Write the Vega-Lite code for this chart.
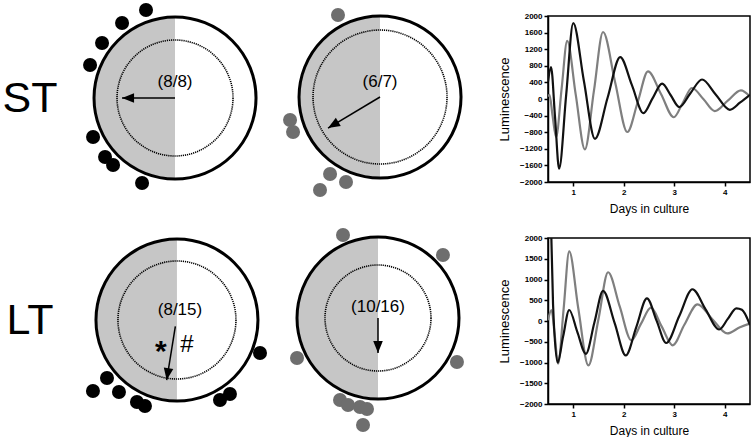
{
  "$schema": "https://vega.github.io/schema/vega-lite/v6.json",
  "padding": {"left": 0, "top": 3, "right": 0, "bottom": 0},
  "background": "white",
  "config": {"view": {"stroke": null}, "font": "Liberation Sans"},
  "datasets": {
    "center": [{"x": 0, "y": 0}],
    "dots": [
      {"p": "ST1", "x": -0.358, "y": 1.086}, {"p": "ST1", "x": -0.654, "y": 0.926}, {"p": "ST1", "x": -0.901, "y": 0.679}, {"p": "ST1", "x": -1.049, "y": 0.407},
      {"p": "ST1", "x": -1.012, "y": -0.481}, {"p": "ST1", "x": -0.864, "y": -0.728}, {"p": "ST1", "x": -0.765, "y": -0.827}, {"p": "ST1", "x": -0.407, "y": -1.049},
      {"p": "ST2", "x": -0.519, "y": 1.012}, {"p": "ST2", "x": -1.111, "y": -0.284}, {"p": "ST2", "x": -1.074, "y": -0.432}, {"p": "ST2", "x": -0.617, "y": -0.951},
      {"p": "ST2", "x": -0.42, "y": -1.049}, {"p": "ST2", "x": -0.741, "y": -1.148},
      {"p": "LT1", "x": -1.037, "y": -0.877}, {"p": "LT1", "x": -0.864, "y": -0.716}, {"p": "LT1", "x": -0.716, "y": -0.889}, {"p": "LT1", "x": -0.494, "y": -1.012},
      {"p": "LT1", "x": -0.395, "y": -1.062}, {"p": "LT1", "x": 0.531, "y": -0.988}, {"p": "LT1", "x": 0.654, "y": -0.914}, {"p": "LT1", "x": 1.025, "y": -0.407},
      {"p": "LT2", "x": -0.432, "y": 1.025}, {"p": "LT2", "x": 0.802, "y": 0.778}, {"p": "LT2", "x": -1.0, "y": -0.494}, {"p": "LT2", "x": 0.975, "y": -0.543},
      {"p": "LT2", "x": -0.469, "y": -1.012}, {"p": "LT2", "x": -0.37, "y": -1.074}, {"p": "LT2", "x": -0.222, "y": -1.099}, {"p": "LT2", "x": -0.136, "y": -1.123},
      {"p": "LT2", "x": -0.185, "y": -1.321}
    ],
    "arrows": [
      {"p": "ST1", "x": -0.654, "y": 0, "x0": 0, "y0": 0, "angle": 270},
      {"p": "ST2", "x": -0.642, "y": -0.383, "x0": 0, "y0": 0, "angle": 239},
      {"p": "LT1", "x": -0.127, "y": -0.741, "x0": -0.02, "y0": -0.08, "angle": 189},
      {"p": "LT2", "x": 0, "y": -0.432, "x0": 0, "y0": 0, "angle": 180}
    ],
    "labels": [
      {"p": "ST1", "k": "n", "x": 0, "y": 0.198, "t": "(8/8)"},
      {"p": "ST2", "k": "n", "x": 0, "y": 0.185, "t": "(6/7)"},
      {"p": "LT1", "k": "n", "x": 0.037, "y": 0.123, "t": "(8/15)"},
      {"p": "LT2", "k": "n", "x": 0, "y": 0.136, "t": "(10/16)"},
      {"p": "LT1", "k": "a", "x": -0.2, "y": -0.4, "t": "*"},
      {"p": "LT1", "k": "s", "x": 0.123, "y": -0.309, "t": "#"}
    ],
    "stlum": [
      {"s": "gray", "day": 0.5, "lum": 60}, {"s": "gray", "day": 0.53, "lum": 100}, {"s": "gray", "day": 0.59, "lum": -400}, {"s": "gray", "day": 0.66, "lum": -915},
      {"s": "gray", "day": 0.77, "lum": 250}, {"s": "gray", "day": 0.88, "lum": 1400}, {"s": "gray", "day": 1.05, "lum": 100}, {"s": "gray", "day": 1.23, "lum": -1215},
      {"s": "gray", "day": 1.41, "lum": 200}, {"s": "gray", "day": 1.59, "lum": 1615}, {"s": "gray", "day": 1.83, "lum": 400}, {"s": "gray", "day": 2.07, "lum": -795},
      {"s": "gray", "day": 2.28, "lum": -60}, {"s": "gray", "day": 2.48, "lum": 665}, {"s": "gray", "day": 2.74, "lum": 115}, {"s": "gray", "day": 2.99, "lum": -440},
      {"s": "gray", "day": 3.17, "lum": -90}, {"s": "gray", "day": 3.35, "lum": 265}, {"s": "gray", "day": 3.58, "lum": -5}, {"s": "gray", "day": 3.8, "lum": -290},
      {"s": "gray", "day": 4.06, "lum": -40}, {"s": "gray", "day": 4.32, "lum": 210}, {"s": "gray", "day": 4.5, "lum": 60},
      {"s": "black", "day": 0.5, "lum": 420}, {"s": "black", "day": 0.56, "lum": 770}, {"s": "black", "day": 0.64, "lum": -450}, {"s": "black", "day": 0.72, "lum": -1680},
      {"s": "black", "day": 0.86, "lum": 100}, {"s": "black", "day": 1.0, "lum": 1830}, {"s": "black", "day": 1.21, "lum": 440}, {"s": "black", "day": 1.43, "lum": -960},
      {"s": "black", "day": 1.68, "lum": 30}, {"s": "black", "day": 1.93, "lum": 1010}, {"s": "black", "day": 2.16, "lum": 340}, {"s": "black", "day": 2.39, "lum": -340},
      {"s": "black", "day": 2.57, "lum": 15}, {"s": "black", "day": 2.76, "lum": 370}, {"s": "black", "day": 2.93, "lum": 90}, {"s": "black", "day": 3.1, "lum": -195},
      {"s": "black", "day": 3.32, "lum": 140}, {"s": "black", "day": 3.55, "lum": 470}, {"s": "black", "day": 3.82, "lum": 110}, {"s": "black", "day": 4.1, "lum": -260},
      {"s": "black", "day": 4.3, "lum": -90}, {"s": "black", "day": 4.5, "lum": 100}
    ],
    "ltlum": [
      {"s": "gray", "day": 0.5, "lum": 20}, {"s": "gray", "day": 0.57, "lum": 265}, {"s": "gray", "day": 0.63, "lum": -300}, {"s": "gray", "day": 0.7, "lum": -1030},
      {"s": "gray", "day": 0.81, "lum": 300}, {"s": "gray", "day": 0.92, "lum": 1680}, {"s": "gray", "day": 1.1, "lum": 300}, {"s": "gray", "day": 1.3, "lum": -1070},
      {"s": "gray", "day": 1.5, "lum": 50}, {"s": "gray", "day": 1.69, "lum": 1175}, {"s": "gray", "day": 1.92, "lum": 350}, {"s": "gray", "day": 2.15, "lum": -465},
      {"s": "gray", "day": 2.34, "lum": -70}, {"s": "gray", "day": 2.54, "lum": 320}, {"s": "gray", "day": 2.75, "lum": -130}, {"s": "gray", "day": 2.97, "lum": -585},
      {"s": "gray", "day": 3.2, "lum": -90}, {"s": "gray", "day": 3.46, "lum": 400}, {"s": "gray", "day": 3.75, "lum": 50}, {"s": "gray", "day": 4.05, "lum": -300},
      {"s": "gray", "day": 4.3, "lum": -150}, {"s": "gray", "day": 4.5, "lum": -60},
      {"s": "black", "day": 0.535, "lum": 3500}, {"s": "black", "day": 0.6, "lum": 400}, {"s": "black", "day": 0.69, "lum": -1000}, {"s": "black", "day": 0.8, "lum": -370},
      {"s": "black", "day": 0.92, "lum": 265}, {"s": "black", "day": 1.08, "lum": -260}, {"s": "black", "day": 1.25, "lum": -790}, {"s": "black", "day": 1.42, "lum": -30},
      {"s": "black", "day": 1.59, "lum": 725}, {"s": "black", "day": 1.82, "lum": -50}, {"s": "black", "day": 2.04, "lum": -830}, {"s": "black", "day": 2.25, "lum": -140},
      {"s": "black", "day": 2.46, "lum": 545}, {"s": "black", "day": 2.65, "lum": 10}, {"s": "black", "day": 2.84, "lum": -530}, {"s": "black", "day": 3.1, "lum": 120},
      {"s": "black", "day": 3.36, "lum": 765}, {"s": "black", "day": 3.62, "lum": 280}, {"s": "black", "day": 3.89, "lum": -205}, {"s": "black", "day": 4.06, "lum": 50},
      {"s": "black", "day": 4.23, "lum": 305}, {"s": "black", "day": 4.34, "lum": 270}, {"s": "black", "day": 4.5, "lum": -100}
    ]
  },
  "bounds": "flush",
  "columns": 4,
  "spacing": {"row": 56, "column": 0},
  "concat": [
    {
      "width": 60, "height": 166,
      "data": {"values": [{"t": "ST"}]},
      "mark": {"type": "text", "fontSize": 43, "font": "Liberation Sans", "baseline": "middle", "align": "center", "color": "black"},
      "encoding": {"text": {"field": "t"}}
    },
    {
      "width": 220, "height": 166,
      "encoding": {
        "x": {"field": "x", "type": "quantitative", "scale": {"domain": [-1.42, 1.296], "nice": false, "zero": false}, "axis": null},
        "y": {"field": "y", "type": "quantitative", "scale": {"domain": [-1.037, 1.012], "nice": false, "zero": false}, "axis": null}
      },
      "layer": [
        {"data": {"name": "center"}, "mark": {"type": "point", "shape": "M0,-1A1,1,0,0,0,0,1Z", "filled": true, "color": "#c6c6c6", "strokeWidth": 0, "size": 25600, "opacity": 1}},
        {"data": {"name": "center"}, "mark": {"type": "point", "shape": "circle", "filled": false, "color": "black", "strokeWidth": 3, "size": 26244, "opacity": 1}},
        {"data": {"name": "center"}, "mark": {"type": "point", "shape": "circle", "filled": false, "color": "black", "strokeWidth": 1.6, "strokeDash": [1.2, 0.9], "size": 13456, "opacity": 1}},
        {"data": {"name": "dots"}, "transform": [{"filter": "datum.p === 'ST1'"}], "mark": {"type": "point", "shape": "circle", "filled": true, "color": "black", "size": 196, "opacity": 1, "strokeWidth": 0}},
        {"data": {"name": "arrows"}, "transform": [{"filter": "datum.p === 'ST1'"}], "mark": {"type": "rule", "color": "black", "strokeWidth": 1.5}, "encoding": {"x2": {"field": "x0"}, "y2": {"field": "y0"}}},
        {"data": {"name": "arrows"}, "transform": [{"filter": "datum.p === 'ST1'"}], "mark": {"type": "point", "shape": "M0,0L0.8,2L-0.8,2Z", "filled": true, "color": "black", "size": 144, "opacity": 1, "strokeWidth": 0}, "encoding": {"angle": {"field": "angle", "type": "quantitative", "scale": null}}},
        {"data": {"name": "labels"}, "transform": [{"filter": "datum.p === 'ST1' && datum.k === 'n'"}], "mark": {"type": "text", "fontSize": 17, "font": "Liberation Sans", "baseline": "middle", "color": "black"}, "encoding": {"text": {"field": "t"}}}
      ]
    },
    {
      "width": 268, "height": 166,
      "encoding": {
        "x": {"field": "x", "type": "quantitative", "scale": {"domain": [-1.235, 2.074], "nice": false, "zero": false}, "axis": null},
        "y": {"field": "y", "type": "quantitative", "scale": {"domain": [-1.049, 1.0], "nice": false, "zero": false}, "axis": null}
      },
      "layer": [
        {"data": {"name": "center"}, "mark": {"type": "point", "shape": "M0,-1A1,1,0,0,0,0,1Z", "filled": true, "color": "#c6c6c6", "strokeWidth": 0, "size": 25600, "opacity": 1}},
        {"data": {"name": "center"}, "mark": {"type": "point", "shape": "circle", "filled": false, "color": "black", "strokeWidth": 3, "size": 26244, "opacity": 1}},
        {"data": {"name": "center"}, "mark": {"type": "point", "shape": "circle", "filled": false, "color": "black", "strokeWidth": 1.6, "strokeDash": [1.2, 0.9], "size": 17956, "opacity": 1}},
        {"data": {"name": "dots"}, "transform": [{"filter": "datum.p === 'ST2'"}], "mark": {"type": "point", "shape": "circle", "filled": true, "color": "#6e6e6e", "size": 196, "opacity": 1, "strokeWidth": 0}},
        {"data": {"name": "arrows"}, "transform": [{"filter": "datum.p === 'ST2'"}], "mark": {"type": "rule", "color": "black", "strokeWidth": 1.5}, "encoding": {"x2": {"field": "x0"}, "y2": {"field": "y0"}}},
        {"data": {"name": "arrows"}, "transform": [{"filter": "datum.p === 'ST2'"}], "mark": {"type": "point", "shape": "M0,0L0.8,2L-0.8,2Z", "filled": true, "color": "black", "size": 144, "opacity": 1, "strokeWidth": 0}, "encoding": {"angle": {"field": "angle", "type": "quantitative", "scale": null}}},
        {"data": {"name": "labels"}, "transform": [{"filter": "datum.p === 'ST2' && datum.k === 'n'"}], "mark": {"type": "text", "fontSize": 17, "font": "Liberation Sans", "baseline": "middle", "color": "black"}, "encoding": {"text": {"field": "t"}}}
      ]
    },
    {
      "width": 202, "height": 166,
      "view": {"stroke": "black", "strokeWidth": 1.5},
      "data": {"name": "stlum"},
      "mark": {"type": "line", "interpolate": "monotone", "strokeWidth": 2.2, "clip": true},
      "encoding": {
        "x": {"field": "day", "type": "quantitative", "scale": {"domain": [0.5, 4.5], "nice": false, "zero": false},
          "axis": {"values": [1, 2, 3, 4], "format": "d", "grid": false, "title": "Days in culture", "titleFontSize": 12, "titleFontWeight": "normal", "titleColor": "black", "titlePadding": 7,
            "labelFontSize": 8, "labelFontWeight": "bold", "labelColor": "black", "labelPadding": 2, "tickColor": "black", "tickSize": 4, "tickWidth": 1.5, "domainColor": "black", "domainWidth": 1.5}},
        "y": {"field": "lum", "type": "quantitative", "scale": {"domain": [-2000, 2000], "nice": false},
          "axis": {"values": [-2000, -1600, -1200, -800, -400, 0, 400, 800, 1200, 1600, 2000], "format": "d", "grid": false, "title": "Luminescence", "titleFontSize": 13, "titleFontWeight": "normal", "titleColor": "black", "titlePadding": 8,
            "labelFontSize": 8, "labelFontWeight": "bold", "labelColor": "black", "labelPadding": 2, "tickColor": "black", "tickSize": 4, "tickWidth": 1.5, "domainColor": "black", "domainWidth": 1.5}},
        "color": {"field": "s", "type": "nominal", "scale": {"domain": ["gray", "black"], "range": ["#7f7f7f", "#111111"]}, "legend": null}
      }
    },
    {
      "width": 60, "height": 166,
      "data": {"values": [{"t": "LT"}]},
      "mark": {"type": "text", "fontSize": 43, "font": "Liberation Sans", "baseline": "middle", "align": "center", "color": "black"},
      "encoding": {"text": {"field": "t"}}
    },
    {
      "width": 220, "height": 166,
      "encoding": {
        "x": {"field": "x", "type": "quantitative", "scale": {"domain": [-1.444, 1.272], "nice": false, "zero": false}, "axis": null},
        "y": {"field": "y", "type": "quantitative", "scale": {"domain": [-1.037, 1.012], "nice": false, "zero": false}, "axis": null}
      },
      "layer": [
        {"data": {"name": "center"}, "mark": {"type": "point", "shape": "M0,-1A1,1,0,0,0,0,1Z", "filled": true, "color": "#c6c6c6", "strokeWidth": 0, "size": 25600, "opacity": 1}},
        {"data": {"name": "center"}, "mark": {"type": "point", "shape": "circle", "filled": false, "color": "black", "strokeWidth": 3, "size": 26244, "opacity": 1}},
        {"data": {"name": "center"}, "mark": {"type": "point", "shape": "circle", "filled": false, "color": "black", "strokeWidth": 1.6, "strokeDash": [1.2, 0.9], "size": 13924, "opacity": 1}},
        {"data": {"name": "dots"}, "transform": [{"filter": "datum.p === 'LT1'"}], "mark": {"type": "point", "shape": "circle", "filled": true, "color": "black", "size": 196, "opacity": 1, "strokeWidth": 0}},
        {"data": {"name": "arrows"}, "transform": [{"filter": "datum.p === 'LT1'"}], "mark": {"type": "rule", "color": "black", "strokeWidth": 1.5}, "encoding": {"x2": {"field": "x0"}, "y2": {"field": "y0"}}},
        {"data": {"name": "arrows"}, "transform": [{"filter": "datum.p === 'LT1'"}], "mark": {"type": "point", "shape": "M0,0L0.8,2L-0.8,2Z", "filled": true, "color": "black", "size": 144, "opacity": 1, "strokeWidth": 0}, "encoding": {"angle": {"field": "angle", "type": "quantitative", "scale": null}}},
        {"data": {"name": "labels"}, "transform": [{"filter": "datum.p === 'LT1' && datum.k === 'n'"}], "mark": {"type": "text", "fontSize": 17, "font": "Liberation Sans", "baseline": "middle", "color": "black"}, "encoding": {"text": {"field": "t"}}},
        {"data": {"name": "labels"}, "transform": [{"filter": "datum.p === 'LT1' && datum.k === 's'"}], "mark": {"type": "text", "fontSize": 24, "font": "Liberation Sans", "baseline": "middle", "color": "black"}, "encoding": {"text": {"field": "t"}}},
        {"data": {"name": "labels"}, "transform": [{"filter": "datum.p === 'LT1' && datum.k === 'a'"}], "mark": {"type": "text", "fontSize": 30, "fontWeight": "bold", "font": "Liberation Sans", "baseline": "middle", "color": "black"}, "encoding": {"text": {"field": "t"}}}
      ]
    },
    {
      "width": 268, "height": 166,
      "encoding": {
        "x": {"field": "x", "type": "quantitative", "scale": {"domain": [-1.21, 2.099], "nice": false, "zero": false}, "axis": null},
        "y": {"field": "y", "type": "quantitative", "scale": {"domain": [-1.062, 0.988], "nice": false, "zero": false}, "axis": null}
      },
      "layer": [
        {"data": {"name": "center"}, "mark": {"type": "point", "shape": "M0,-1A1,1,0,0,0,0,1Z", "filled": true, "color": "#c6c6c6", "strokeWidth": 0, "size": 25600, "opacity": 1}},
        {"data": {"name": "center"}, "mark": {"type": "point", "shape": "circle", "filled": false, "color": "black", "strokeWidth": 3, "size": 26244, "opacity": 1}},
        {"data": {"name": "center"}, "mark": {"type": "point", "shape": "circle", "filled": false, "color": "black", "strokeWidth": 1.6, "strokeDash": [1.2, 0.9], "size": 11236, "opacity": 1}},
        {"data": {"name": "dots"}, "transform": [{"filter": "datum.p === 'LT2'"}], "mark": {"type": "point", "shape": "circle", "filled": true, "color": "#6e6e6e", "size": 196, "opacity": 1, "strokeWidth": 0}},
        {"data": {"name": "arrows"}, "transform": [{"filter": "datum.p === 'LT2'"}], "mark": {"type": "rule", "color": "black", "strokeWidth": 1.5}, "encoding": {"x2": {"field": "x0"}, "y2": {"field": "y0"}}},
        {"data": {"name": "arrows"}, "transform": [{"filter": "datum.p === 'LT2'"}], "mark": {"type": "point", "shape": "M0,0L0.8,2L-0.8,2Z", "filled": true, "color": "black", "size": 144, "opacity": 1, "strokeWidth": 0}, "encoding": {"angle": {"field": "angle", "type": "quantitative", "scale": null}}},
        {"data": {"name": "labels"}, "transform": [{"filter": "datum.p === 'LT2' && datum.k === 'n'"}], "mark": {"type": "text", "fontSize": 17, "font": "Liberation Sans", "baseline": "middle", "color": "black"}, "encoding": {"text": {"field": "t"}}}
      ]
    },
    {
      "width": 202, "height": 166,
      "view": {"stroke": "black", "strokeWidth": 1.5},
      "data": {"name": "ltlum"},
      "mark": {"type": "line", "interpolate": "monotone", "strokeWidth": 2.2, "clip": true},
      "encoding": {
        "x": {"field": "day", "type": "quantitative", "scale": {"domain": [0.5, 4.5], "nice": false, "zero": false},
          "axis": {"values": [1, 2, 3, 4], "format": "d", "grid": false, "title": "Days in culture", "titleFontSize": 12, "titleFontWeight": "normal", "titleColor": "black", "titlePadding": 7,
            "labelFontSize": 8, "labelFontWeight": "bold", "labelColor": "black", "labelPadding": 2, "tickColor": "black", "tickSize": 4, "tickWidth": 1.5, "domainColor": "black", "domainWidth": 1.5}},
        "y": {"field": "lum", "type": "quantitative", "scale": {"domain": [-2000, 2000], "nice": false},
          "axis": {"values": [-2000, -1500, -1000, -500, 0, 500, 1000, 1500, 2000], "format": "d", "grid": false, "title": "Luminescence", "titleFontSize": 13, "titleFontWeight": "normal", "titleColor": "black", "titlePadding": 8,
            "labelFontSize": 8, "labelFontWeight": "bold", "labelColor": "black", "labelPadding": 2, "tickColor": "black", "tickSize": 4, "tickWidth": 1.5, "domainColor": "black", "domainWidth": 1.5}},
        "color": {"field": "s", "type": "nominal", "scale": {"domain": ["gray", "black"], "range": ["#7f7f7f", "#111111"]}, "legend": null}
      }
    }
  ]
}
